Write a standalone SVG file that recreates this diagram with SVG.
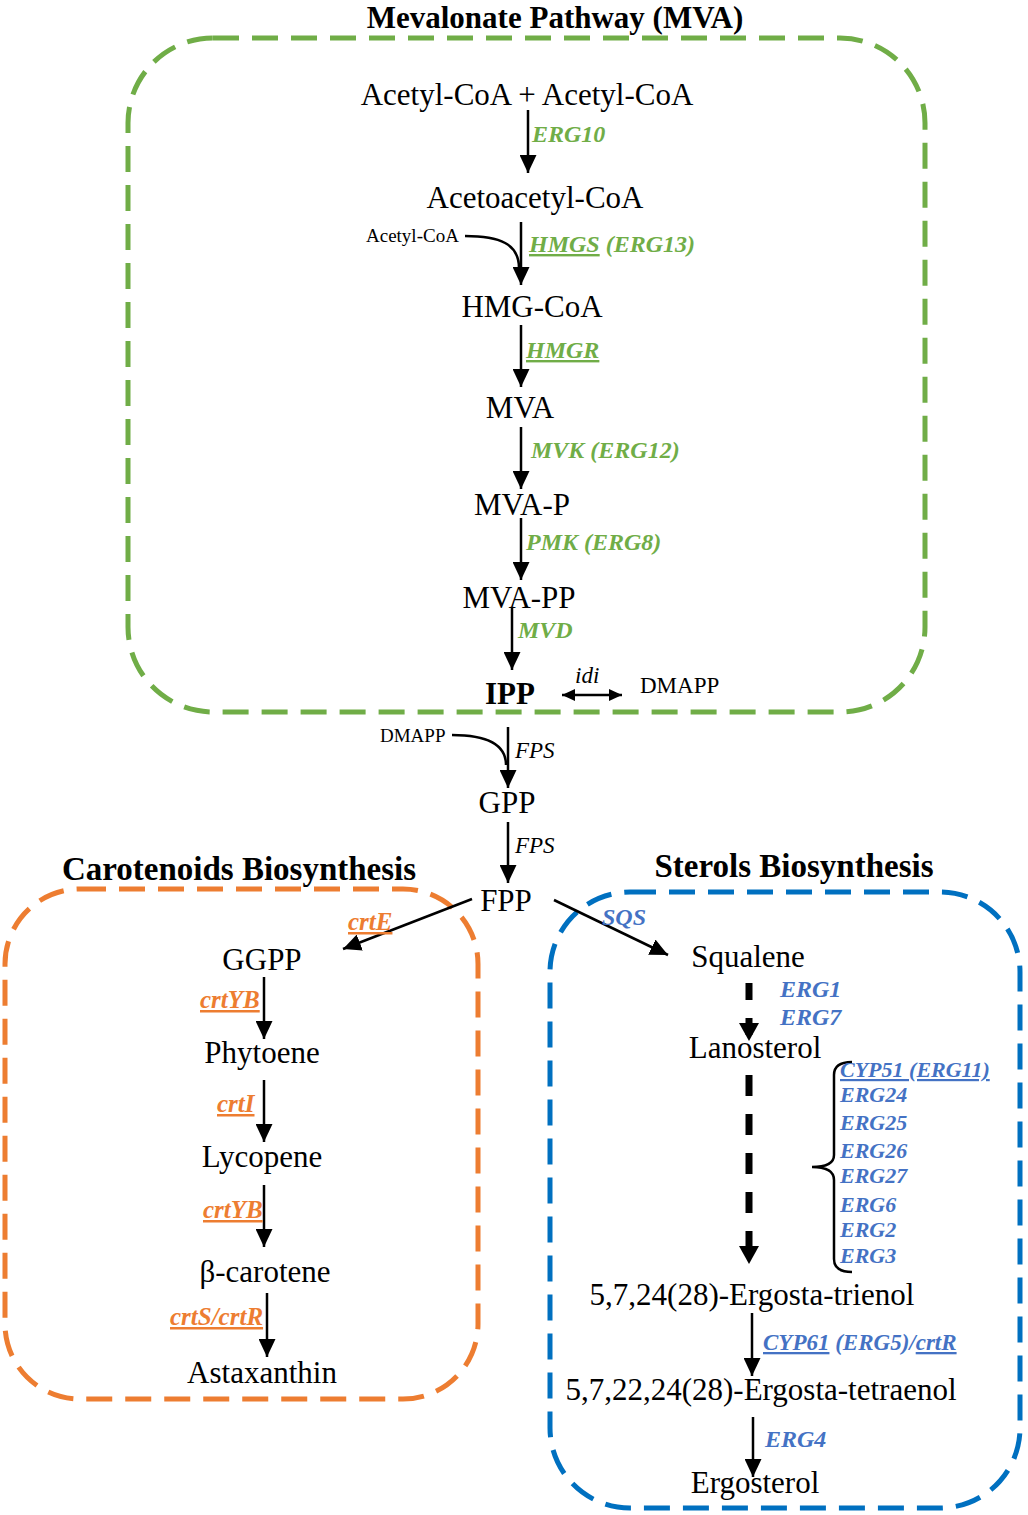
<svg xmlns="http://www.w3.org/2000/svg" width="1028" height="1515" viewBox="0 0 1028 1515">
<defs>
<style>
text{font-family:"Liberation Serif","Times New Roman",serif;fill:#000}
.cmp{font-size:31px;text-anchor:middle}
.ttl{font-size:33px;font-weight:bold;text-anchor:middle}
.g{font-weight:bold;font-style:italic;font-size:24px}
.gg{fill:#70ad47}
.go{fill:#ed7d31;font-size:25px}
.gb{fill:#4472c4}
.u{text-decoration:underline}
.sm{font-size:19px}
.it{font-style:italic;font-size:23px}
.box{fill:none;stroke-width:5;stroke-dasharray:26 13}
.ar{stroke:#000;stroke-width:2.5;fill:none;marker-end:url(#ah)}
.da{stroke:#000;stroke-width:7;fill:none;marker-end:url(#ahb)}
</style>
<marker id="ah" markerUnits="userSpaceOnUse" markerWidth="18" markerHeight="17" viewBox="0 0 18 17" refX="18" refY="8.5" orient="auto"><path d="M0,0 L18,8.5 L0,17 z" fill="#000"/></marker>
<marker id="ahb" markerUnits="userSpaceOnUse" markerWidth="18" markerHeight="20" viewBox="0 0 18 20" refX="18" refY="10" orient="auto"><path d="M0,0 L18,10 L0,20 z" fill="#000"/></marker>
<marker id="ahs" markerUnits="userSpaceOnUse" markerWidth="13" markerHeight="12" viewBox="0 0 13 12" refX="13" refY="6" orient="auto-start-reverse"><path d="M0,0 L13,6 L0,12 z" fill="#000"/></marker>
</defs>

<g id="boxes">
<rect id="box-mva" class="box" x="128" y="38" width="797" height="674" rx="85" ry="85" stroke="#70ad47"/>
<rect id="box-carotenoids" class="box" x="5" y="889" width="473" height="510" rx="75" ry="75" stroke="#ed7d31"/>
<rect id="box-sterols" class="box" x="550" y="892" width="470" height="616" rx="80" ry="80" stroke="#0070c0"/>
<text class="ttl" x="555" y="28" style="font-size:31px">Mevalonate Pathway (MVA)</text>
<text class="ttl" x="239" y="880">Carotenoids Biosynthesis</text>
<text class="ttl" x="794" y="877">Sterols Biosynthesis</text>
</g>

<g id="connectors">
<line class="ar" x1="528" y1="110" x2="528" y2="173"/>
<line class="ar" x1="521" y1="222" x2="521" y2="285"/>
<path d="M465,236 C500,236 519,244 519,268" stroke="#000" stroke-width="2.5" fill="none"/>
<line class="ar" x1="521" y1="325" x2="521" y2="387"/>
<line class="ar" x1="521" y1="427" x2="521" y2="489"/>
<line class="ar" x1="521" y1="518" x2="521" y2="580"/>
<line class="ar" x1="512" y1="608" x2="512" y2="670"/>
<line x1="562" y1="695" x2="622" y2="695" stroke="#000" stroke-width="2.5" marker-start="url(#ahs)" marker-end="url(#ahs)"/>
<line class="ar" x1="508" y1="727" x2="508" y2="788"/>
<path d="M452,735 C487,735 506,744 506,765" stroke="#000" stroke-width="2.5" fill="none"/>
<line class="ar" x1="508" y1="822" x2="508" y2="883"/>
<line class="ar" x1="472" y1="899" x2="343" y2="949"/>
<line class="ar" x1="554" y1="900" x2="668" y2="955"/>
<line class="ar" x1="264" y1="977" x2="264" y2="1039"/>
<line class="ar" x1="264" y1="1080" x2="264" y2="1142"/>
<line class="ar" x1="264" y1="1185" x2="264" y2="1247"/>
<line class="ar" x1="267" y1="1293" x2="267" y2="1357"/>
<line class="da" x1="749" y1="983" x2="749" y2="1041" stroke-dasharray="17 18"/>
<line class="da" x1="749" y1="1075" x2="749" y2="1264" stroke-dasharray="21 18"/>
<path d="M852,1062 Q834,1062 834,1075 L834,1155 Q834,1167 812,1167 Q834,1167 834,1180 L834,1259 Q834,1272 852,1272" stroke="#000" stroke-width="2.5" fill="none"/>
<line class="ar" x1="752" y1="1313" x2="752" y2="1376"/>
<line class="ar" x1="753" y1="1417" x2="753" y2="1477"/>
</g>

<g id="mva-nodes">
<g id="n-acetyl"><text class="cmp" x="527" y="105">Acetyl-CoA + Acetyl-CoA</text></g>
<g id="n-acetoacetyl"><text class="cmp" x="535" y="208">Acetoacetyl-CoA</text></g>
<g id="n-acetyl-small"><text class="sm" x="366" y="242">Acetyl-CoA</text></g>
<g id="n-hmgcoa"><text class="cmp" x="532" y="317">HMG-CoA</text></g>
<g id="n-mva"><text class="cmp" x="520" y="418">MVA</text></g>
<g id="n-mvap"><text class="cmp" x="522" y="515">MVA-P</text></g>
<g id="n-mvapp"><text class="cmp" x="519" y="608">MVA-PP</text></g>
<g id="n-ipp"><text class="cmp" x="510" y="704" font-weight="bold">IPP</text></g>
<g id="n-dmapp1"><text x="640" y="693" font-size="23">DMAPP</text></g>
<g id="n-dmapp2"><text class="sm" x="380" y="742">DMAPP</text></g>
<g id="n-gpp"><text class="cmp" x="507" y="813">GPP</text></g>
<g id="n-fpp"><text class="cmp" x="506" y="911">FPP</text></g>
</g>

<g id="mva-labels">
<text class="g gg" x="532" y="142">ERG10</text>
<text class="g gg" x="529" y="252"><tspan class="u">HMGS</tspan> (ERG13)</text>
<text class="g gg u" x="526" y="358">HMGR</text>
<text class="g gg" x="531" y="458">MVK (ERG12)</text>
<text class="g gg" x="526" y="550">PMK (ERG8)</text>
<text class="g gg" x="518" y="638">MVD</text>
<text class="it" x="575" y="683">idi</text>
<text class="it" x="515" y="758">FPS</text>
<text class="it" x="515" y="853">FPS</text>
</g>

<g id="carotenoid-nodes">
<g id="n-ggpp"><text class="cmp" x="262" y="970">GGPP</text></g>
<g id="n-phytoene"><text class="cmp" x="262" y="1063">Phytoene</text></g>
<g id="n-lycopene"><text class="cmp" x="262" y="1167">Lycopene</text></g>
<g id="n-bcarotene"><text class="cmp" x="265" y="1282">β-carotene</text></g>
<g id="n-astaxanthin"><text class="cmp" x="262" y="1383">Astaxanthin</text></g>
<text class="g go u" x="348" y="930">crtE</text>
<text class="g go u" x="200" y="1008">crtYB</text>
<text class="g go u" x="217" y="1112">crtI</text>
<text class="g go u" x="203" y="1218">crtYB</text>
<text class="g go u" x="170" y="1325">crtS/crtR</text>
</g>

<g id="sterol-nodes">
<g id="n-squalene"><text class="cmp" x="748" y="967">Squalene</text></g>
<g id="n-lanosterol"><text class="cmp" x="755" y="1058">Lanosterol</text></g>
<g id="n-trienol"><text class="cmp" x="752" y="1305">5,7,24(28)-Ergosta-trienol</text></g>
<g id="n-tetraenol"><text class="cmp" x="761" y="1400">5,7,22,24(28)-Ergosta-tetraenol</text></g>
<g id="n-ergosterol"><text class="cmp" x="755" y="1493">Ergosterol</text></g>
<text class="g gb" x="602" y="925">SQS</text>
<text class="g gb" x="780" y="997">ERG1</text>
<text class="g gb" x="780" y="1025">ERG7</text>
<g>
<text class="g gb u" x="840" y="1077" style="font-size:22px">CYP51 (ERG11)</text>
<text class="g gb" x="840" y="1102" style="font-size:22px">ERG24</text>
<text class="g gb" x="840" y="1130" style="font-size:22px">ERG25</text>
<text class="g gb" x="840" y="1158" style="font-size:22px">ERG26</text>
<text class="g gb" x="840" y="1183" style="font-size:22px">ERG27</text>
<text class="g gb" x="840" y="1212" style="font-size:22px">ERG6</text>
<text class="g gb" x="840" y="1237" style="font-size:22px">ERG2</text>
<text class="g gb" x="840" y="1263" style="font-size:22px">ERG3</text>
</g>
<text class="g gb" x="763" y="1350" style="font-size:23px"><tspan class="u">CYP61</tspan> (ERG5)/<tspan class="u">crtR</tspan></text>
<text class="g gb" x="765" y="1447">ERG4</text>
</g>
</svg>
